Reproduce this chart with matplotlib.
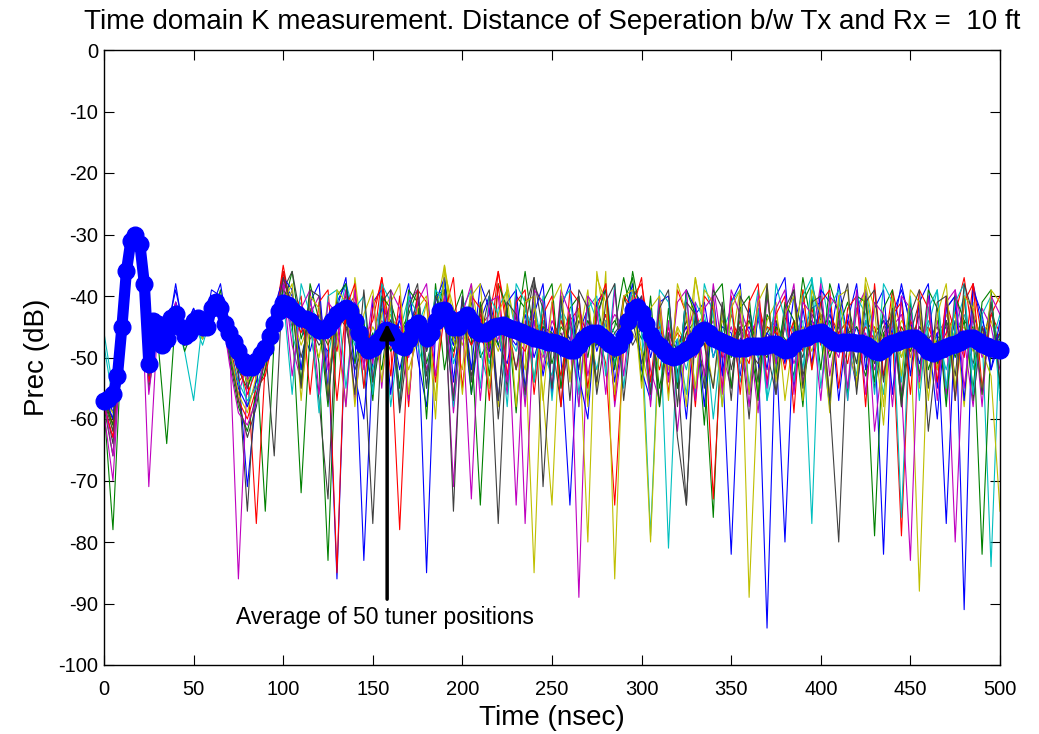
#!/usr/bin/env python3
"""Time domain K measurement: 50 tuner positions and their average."""

import matplotlib
matplotlib.use("Agg")
import matplotlib.pyplot as plt
import numpy as np

plt.rcParams["font.family"] = ["Liberation Sans", "DejaVu Sans"]
plt.rcParams["axes.unicode_minus"] = False

# average over tuner positions, one value every 2.5 ns from 0 to 500 ns
AVG_STEP = 2.5
AVG_DB = [
    -57, -56.8, -56, -53, -45, -36, -31, -30, -31.5, -38,
    -51, -44, -44.5, -48, -47, -43.5, -43, -45, -46.5, -46,
    -44, -43.5, -45, -45, -42, -41, -42, -44.5, -46, -47.5,
    -49, -50.5, -51.5, -51.5, -50.5, -49.5, -48.5, -46.5, -44.5, -42.5,
    -41.2, -41.5, -42.3, -43, -43.5, -43.8, -44, -45, -45.5, -45.5,
    -45, -44, -43, -42.5, -42, -42.5, -44, -46, -48, -48.8,
    -48.5, -47.5, -46.5, -45.5, -45.8, -46.8, -48, -48.3, -47, -45,
    -44.4, -45.5, -46.8, -46, -44, -42.5, -42.3, -43.5, -45, -45,
    -43.8, -43.1, -44, -45.5, -46, -46, -45.5, -45, -44.8, -44.7,
    -45, -45.3, -45.5, -45.8, -46.2, -46.5, -46.8, -47, -47.2, -47.4,
    -47.5, -47.6, -48, -48.5, -48.8, -48.8, -48, -47, -46.3, -46,
    -46, -46.5, -47.2, -47.8, -48.3, -48, -46.5, -44, -42.3, -41.8,
    -42.8, -44.5, -46.3, -47.5, -48.2, -49, -49.6, -49.9, -49.7, -49.2,
    -48.7, -48.3, -47.2, -46, -45.5, -46, -46.8, -47.2, -47.5, -47.8,
    -48.2, -48.5, -48.5, -48.4, -48.2, -48.1, -48.2, -48.2, -48, -47.8,
    -47.8, -48.3, -48.8, -48.6, -47.8, -47, -46.8, -46.6, -46.2, -46,
    -45.9, -46.3, -47, -47.5, -47.6, -47.5, -47.4, -47.5, -47.6, -47.7,
    -48, -48.5, -49, -49.1, -48.6, -48, -47.6, -47.4, -47.2, -47,
    -46.8, -46.8, -47.3, -48.2, -49, -49.3, -49, -48.6, -48.3, -48,
    -47.8, -47.5, -47, -46.8, -46.9, -47.3, -47.8, -48.2, -48.4, -48.6,
    -48.8,
]

# individual tuner positions, one value every 5 ns from 0 to 500 ns
TRACE_STEP = 5
TRACE_01 = [
    -56, -58, -46, -31, -31, -50, -43, -46, -39, -46,
    -42, -47, -39, -40, -47, -52, -71, -56, -50, -43,
    -38, -40, -45, -49, -43, -47, -41, -38, -46, -83,
    -50, -42, -44, -52, -45, -41, -49, -40, -39, -47,
    -42, -56, -44, -40, -48, -51, -43, -47, -41, -53,
    -45, -50, -74, -46, -42, -49, -44, -56, -45, -39,
    -41, -50, -44, -53, -47, -60, -43, -41, -50, -45,
    -46, -53, -42, -49, -94, -44, -51, -40, -46, -42,
    -41, -48, -38, -47, -55, -44, -46, -82, -43, -39,
    -44, -51, -46, -60, -42, -40, -91, -38, -45, -52,
    -47,
]
TRACE_02 = [
    -58, -78, -47, -32, -32, -55, -46, -49, -42, -48,
    -45, -44, -43, -41, -49, -47, -55, -50, -75, -47,
    -42, -36, -47, -42, -51, -83, -44, -40, -43, -50,
    -46, -52, -41, -46, -43, -39, -51, -45, -37, -48,
    -45, -41, -50, -47, -43, -55, -40, -42, -48, -44,
    -51, -45, -47, -43, -50, -41, -48, -45, -37, -44,
    -47, -43, -55, -46, -49, -44, -48, -52, -76, -42,
    -50, -45, -47, -56, -43, -46, -48, -53, -41, -38,
    -44, -50, -45, -41, -48, -53, -46, -44, -49, -45,
    -48, -43, -52, -47, -45, -50, -44, -46, -49, -41,
    -50,
]
TRACE_03 = [
    -57, -60, -44, -31, -31, -53, -44, -47, -42, -45,
    -43, -46, -41, -42, -48, -54, -52, -77, -51, -44,
    -36, -43, -46, -41, -47, -44, -49, -39, -45, -47,
    -44, -37, -48, -78, -46, -43, -45, -42, -44, -50,
    -41, -47, -43, -49, -36, -44, -52, -45, -43, -48,
    -46, -53, -44, -42, -47, -45, -51, -74, -48, -40,
    -38, -47, -52, -45, -51, -46, -42, -48, -45, -50,
    -43, -48, -51, -41, -47, -45, -52, -44, -49, -42,
    -48, -43, -46, -51, -42, -47, -45, -50, -39, -46,
    -49, -45, -47, -52, -41, -46, -50, -38, -47, -43,
    -46,
]
TRACE_04 = [
    -48, -57, -45, -31, -32, -49, -45, -48, -44, -49,
    -57, -44, -43, -42, -45, -50, -58, -49, -47, -46,
    -43, -44, -41, -46, -44, -50, -42, -44, -48, -46,
    -52, -45, -43, -47, -49, -45, -41, -47, -43, -46,
    -47, -43, -45, -51, -44, -46, -49, -42, -46, -44,
    -49, -43, -50, -47, -45, -52, -44, -46, -49, -43,
    -45, -79, -44, -49, -47, -52, -45, -43, -50, -46,
    -49, -44, -47, -50, -45, -49, -43, -46, -44, -77,
    -37, -45, -49, -46, -51, -44, -48, -43, -47, -50,
    -45, -49, -44, -47, -52, -46, -43, -48, -46, -84,
    -45,
]
TRACE_05 = [
    -59, -70, -46, -32, -31, -71, -44, -46, -41, -47,
    -44, -43, -42, -43, -50, -56, -51, -53, -48, -45,
    -40, -45, -42, -47, -45, -43, -47, -41, -44, -51,
    -47, -44, -46, -43, -50, -44, -48, -46, -41, -71,
    -43, -46, -44, -48, -47, -42, -74, -44, -47, -50,
    -44, -47, -43, -89, -44, -48, -46, -43, -45, -41,
    -44, -48, -46, -51, -48, -45, -50, -47, -44, -49,
    -45, -50, -46, -44, -49, -47, -45, -51, -46, -48,
    -44, -47, -50, -43, -49, -46, -52, -47, -45, -43,
    -50, -45, -48, -46, -44, -80, -46, -44, -50, -47,
    -48,
]
TRACE_06 = [
    -56, -62, -47, -31, -33, -52, -45, -48, -44, -46,
    -44, -47, -43, -41, -48, -51, -53, -50, -49, -46,
    -41, -43, -48, -44, -46, -45, -44, -43, -42, -49,
    -45, -48, -43, -46, -52, -47, -45, -43, -35, -44,
    -48, -43, -47, -45, -49, -44, -46, -48, -85, -45,
    -47, -44, -49, -46, -80, -36, -45, -48, -43, -46,
    -49, -80, -46, -50, -45, -48, -37, -45, -48, -44,
    -47, -51, -44, -48, -46, -43, -50, -47, -45, -49,
    -44, -46, -49, -47, -43, -39, -50, -46, -48, -44,
    -46, -88, -45, -48, -43, -47, -45, -49, -46, -44,
    -49,
]
TRACE_07 = [
    -57, -64, -46, -31, -32, -54, -43, -48, -43, -48,
    -45, -46, -44, -40, -46, -53, -75, -52, -50, -47,
    -39, -36, -44, -45, -48, -46, -43, -45, -47, -49,
    -77, -46, -44, -47, -45, -42, -49, -44, -43, -47,
    -45, -48, -43, -46, -77, -44, -47, -45, -37, -46,
    -48, -46, -50, -44, -47, -45, -49, -46, -44, -48,
    -45, -47, -50, -48, -52, -74, -45, -47, -46, -49,
    -47, -45, -49, -51, -46, -44, -48, -46, -50, -43,
    -45, -48, -46, -44, -49, -47, -51, -45, -43, -47,
    -46, -49, -47, -45, -50, -44, -46, -51, -45, -48,
    -47,
]
TRACE_08 = [
    -55, -59, -45, -30, -31, -50, -44, -47, -38, -47,
    -44, -45, -42, -38, -47, -49, -54, -50, -48, -44,
    -42, -44, -43, -45, -47, -49, -86, -43, -41, -46,
    -48, -45, -47, -44, -49, -43, -85, -45, -44, -48,
    -43, -45, -47, -49, -44, -46, -48, -43, -50, -45,
    -49, -44, -47, -50, -45, -47, -43, -50, -46, -44,
    -42, -48, -46, -52, -48, -45, -49, -44, -47, -50,
    -82, -47, -45, -49, -46, -48, -80, -45, -48, -44,
    -46, -43, -47, -49, -45, -50, -47, -44, -46, -38,
    -45, -47, -50, -46, -77, -44, -48, -43, -47, -49,
    -46,
]
TRACE_09 = [
    -58, -66, -46, -31, -32, -51, -47, -64, -43, -48,
    -46, -44, -42, -41, -48, -52, -55, -51, -50, -47,
    -42, -44, -72, -46, -45, -48, -44, -43, -46, -50,
    -47, -45, -49, -46, -44, -47, -46, -43, -45, -49,
    -44, -47, -74, -45, -48, -43, -46, -36, -47, -45,
    -46, -49, -45, -47, -44, -48, -46, -44, -47, -36,
    -44, -46, -49, -47, -51, -46, -44, -48, -45, -47,
    -49, -46, -44, -48, -50, -45, -47, -49, -37, -45,
    -47, -44, -49, -46, -45, -48, -79, -46, -44, -47,
    -49, -45, -47, -51, -44, -48, -46, -45, -82, -47,
    -48,
]
TRACE_10 = [
    -56, -61, -44, -31, -31, -52, -45, -46, -42, -46,
    -43, -45, -41, -42, -47, -51, -56, -52, -48, -45,
    -35, -43, -45, -43, -46, -47, -85, -42, -40, -47,
    -49, -37, -46, -45, -48, -43, -47, -45, -42, -46,
    -44, -48, -45, -43, -36, -46, -47, -49, -44, -48,
    -47, -44, -48, -46, -45, -47, -43, -49, -46, -42,
    -44, -47, -45, -49, -46, -48, -45, -44, -73, -46,
    -48, -44, -47, -49, -45, -46, -48, -44, -47, -45,
    -43, -49, -46, -44, -48, -45, -47, -50, -46, -79,
    -44, -47, -45, -49, -46, -43, -37, -47, -45, -48,
    -46,
]
TRACE_11 = [
    -57, -58, -46, -31, -32, -53, -46, -47, -44, -45,
    -44, -48, -43, -42, -46, -50, -52, -53, -49, -45,
    -39, -46, -52, -41, -45, -56, -44, -38, -43, -55,
    -47, -41, -58, -46, -40, -48, -53, -42, -38, -51,
    -46, -40, -49, -55, -42, -39, -46, -57, -41, -49,
    -53, -42, -45, -58, -40, -44, -38, -51, -45, -39,
    -46, -55, -42, -81, -47, -56, -41, -44, -60, -46,
    -42, -54, -48, -39, -57, -50, -43, -40, -52, -37,
    -47, -58, -41, -46, -53, -39, -47, -56, -42, -76,
    -41, -53, -45, -39, -57, -45, -40, -52, -44, -48,
    -43,
]
TRACE_12 = [
    -58, -63, -47, -32, -32, -54, -44, -49, -42, -47,
    -45, -46, -43, -42, -47, -86, -53, -51, -49, -46,
    -37, -48, -54, -43, -40, -52, -47, -39, -57, -45,
    -51, -40, -46, -55, -41, -39, -52, -47, -40, -59,
    -44, -73, -41, -50, -45, -56, -39, -77, -44, -52,
    -41, -55, -48, -40, -53, -44, -38, -58, -46, -43,
    -40, -52, -57, -44, -62, -47, -41, -53, -38, -49,
    -55, -42, -46, -59, -40, -51, -45, -38, -54, -47,
    -38, -53, -44, -57, -42, -39, -62, -49, -43, -55,
    -83, -42, -50, -44, -56, -39, -47, -58, -42, -45,
    -52,
]
TRACE_13 = [
    -57, -59, -45, -31, -32, -50, -45, -47, -43, -46,
    -44, -46, -42, -43, -48, -50, -54, -51, -49, -46,
    -43, -39, -55, -45, -50, -41, -46, -58, -37, -49,
    -54, -43, -40, -57, -44, -48, -41, -60, -35, -47,
    -52, -38, -47, -44, -58, -38, -46, -52, -42, -56,
    -74, -41, -53, -47, -39, -55, -36, -86, -44, -40,
    -49, -56, -43, -52, -45, -58, -37, -46, -55, -42,
    -48, -39, -89, -53, -44, -41, -57, -46, -39, -52,
    -44, -59, -40, -48, -54, -38, -46, -61, -41, -50,
    -45, -55, -40, -52, -47, -43, -58, -41, -49, -53,
    -75,
]
TRACE_14 = [
    -57, -60, -46, -31, -31, -52, -45, -48, -43, -47,
    -44, -45, -43, -42, -47, -51, -53, -52, -48, -66,
    -36, -42, -50, -44, -57, -73, -41, -45, -52, -48,
    -55, -46, -41, -59, -47, -40, -53, -44, -39, -75,
    -41, -53, -47, -40, -60, -45, -52, -42, -37, -71,
    -47, -58, -43, -52, -41, -56, -46, -50, -40, -44,
    -51, -44, -58, -46, -63, -74, -43, -48, -55, -41,
    -52, -45, -60, -42, -49, -56, -44, -39, -53, -46,
    -43, -57, -80, -45, -51, -40, -55, -47, -42, -58,
    -46, -41, -62, -48, -44, -53, -40, -57, -45, -50,
    -46,
]
TRACE_15 = [
    -56, -60, -45, -31, -31, -52, -43, -49, -41, -45,
    -42, -46, -40, -41, -48, -55, -58, -54, -47, -42,
    -37, -39, -52, -41, -38, -55, -42, -37, -53, -60,
    -41, -39, -56, -43, -38, -50, -58, -41, -37, -54,
    -40, -52, -38, -42, -57, -41, -39, -55, -43, -38,
    -56, -42, -38, -53, -60, -41, -39, -54, -44, -38,
    -52, -57, -41, -40, -55, -39, -42, -58, -40, -53,
    -41, -38, -56, -43, -52, -40, -37, -55, -42, -51,
    -39, -41, -57, -44, -38, -52, -42, -39, -56, -40,
    -53, -41, -38, -55, -42, -40, -57, -39, -43, -52,
    -44,
]
TRACE_16 = [
    -57, -61, -46, -31, -32, -50, -44, -47, -42, -49,
    -45, -43, -44, -39, -50, -58, -62, -56, -52, -45,
    -39, -41, -54, -38, -44, -58, -40, -38, -51, -44,
    -57, -40, -42, -55, -39, -41, -60, -38, -52, -43,
    -39, -56, -41, -53, -38, -42, -59, -40, -54, -41,
    -38, -55, -42, -40, -57, -43, -39, -52, -41, -37,
    -54, -40, -58, -42, -55, -39, -43, -61, -40, -38,
    -55, -42, -40, -57, -39, -53, -41, -44, -58, -40,
    -52, -38, -43, -56, -40, -41, -54, -42, -39, -57,
    -41, -53, -39, -42, -58, -40, -44, -55, -41, -39,
    -55,
]
TRACE_17 = [
    -58, -63, -44, -31, -31, -54, -45, -46, -42, -47,
    -43, -45, -42, -40, -47, -57, -60, -55, -53, -46,
    -36, -44, -40, -56, -41, -39, -57, -42, -38, -55,
    -42, -38, -53, -40, -58, -39, -41, -54, -43, -37,
    -55, -40, -42, -57, -38, -53, -41, -39, -56, -43,
    -40, -58, -39, -41, -55, -42, -38, -57, -40, -42,
    -37, -54, -41, -56, -39, -43, -58, -40, -42, -55,
    -40, -56, -41, -38, -54, -43, -40, -59, -39, -52,
    -41, -39, -55, -42, -40, -58, -38, -53, -43, -41,
    -56, -39, -42, -54, -40, -57, -41, -38, -55, -43,
    -40,
]
TRACE_18 = [
    -46, -55, -46, -32, -32, -51, -43, -48, -43, -46,
    -44, -47, -43, -42, -49, -54, -57, -55, -50, -44,
    -40, -56, -38, -43, -59, -40, -39, -55, -42, -40,
    -56, -38, -41, -57, -40, -43, -55, -39, -41, -58,
    -42, -39, -55, -40, -43, -58, -38, -41, -54, -40,
    -57, -41, -39, -56, -42, -40, -53, -38, -55, -41,
    -43, -57, -39, -41, -54, -40, -56, -38, -43, -58,
    -41, -39, -55, -42, -57, -38, -44, -54, -40, -37,
    -55, -42, -39, -57, -40, -43, -56, -38, -41, -54,
    -40, -57, -42, -39, -55, -41, -38, -56, -43, -40,
    -57,
]
TRACE_19 = [
    -57, -66, -47, -32, -31, -56, -44, -49, -41, -48,
    -45, -44, -42, -41, -51, -59, -61, -57, -49, -43,
    -38, -53, -42, -39, -56, -41, -43, -58, -39, -52,
    -40, -55, -39, -42, -57, -41, -38, -53, -40, -56,
    -43, -38, -57, -41, -40, -54, -42, -58, -39, -41,
    -55, -39, -43, -58, -40, -42, -56, -39, -53, -40,
    -42, -58, -40, -54, -41, -39, -57, -42, -40, -56,
    -39, -43, -58, -40, -55, -42, -39, -56, -41, -43,
    -57, -40, -42, -55, -39, -56, -41, -43, -58, -40,
    -42, -54, -40, -57, -41, -39, -55, -42, -58, -40,
    -43,
]
TRACE_20 = [
    -57, -58, -45, -31, -32, -50, -46, -47, -44, -45,
    -43, -47, -41, -42, -48, -56, -59, -53, -51, -44,
    -41, -38, -57, -40, -42, -56, -39, -41, -58, -43,
    -39, -54, -41, -38, -56, -42, -40, -57, -36, -42,
    -56, -40, -38, -55, -43, -39, -58, -41, -40, -57,
    -41, -38, -54, -42, -58, -37, -41, -56, -40, -39,
    -55, -42, -40, -57, -38, -43, -55, -39, -41, -58,
    -42, -39, -56, -41, -38, -54, -43, -40, -57, -39,
    -43, -56, -40, -39, -55, -37, -42, -58, -40, -53,
    -39, -41, -57, -43, -38, -55, -40, -42, -56, -39,
    -41,
]
TRACE_21 = [
    -57, -62, -46, -31, -32, -53, -44, -48, -42, -48,
    -44, -46, -43, -41, -49, -57, -63, -58, -50, -45,
    -37, -42, -55, -39, -40, -57, -41, -43, -56, -39,
    -54, -41, -39, -58, -42, -38, -55, -40, -43, -57,
    -40, -54, -42, -39, -57, -41, -43, -56, -38, -42,
    -55, -40, -57, -39, -42, -54, -41, -38, -57, -43,
    -40, -56, -42, -39, -58, -41, -43, -55, -39, -42,
    -57, -40, -43, -54, -38, -56, -42, -39, -55, -41,
    -40, -57, -43, -38, -56, -41, -39, -54, -42, -58,
    -43, -39, -55, -41, -40, -57, -38, -43, -56, -41,
    -54,
]
TRACES = [
    TRACE_01, TRACE_02, TRACE_03, TRACE_04, TRACE_05, TRACE_06, TRACE_07,
    TRACE_08, TRACE_09, TRACE_10, TRACE_11, TRACE_12, TRACE_13, TRACE_14,
    TRACE_15, TRACE_16, TRACE_17, TRACE_18, TRACE_19, TRACE_20, TRACE_21,
]

# old MATLAB line colour order: b, g, r, c, m, y, k
COLOR_ORDER = [
    (0.0, 0.0, 1.0), (0.0, 0.5, 0.0), (1.0, 0.0, 0.0), (0.0, 0.75, 0.75),
    (0.75, 0.0, 0.75), (0.75, 0.75, 0.0), (0.25, 0.25, 0.25),
]

TITLE = "Time domain K measurement. Distance of Seperation b/w Tx and Rx =  10 ft"
NOTE = "Average of 50 tuner positions"
NOTE_XY = (157, -92.2)
ARROW_TIP = (158, -44.5)
ARROW_TAIL = (158, -89.3)


def main() -> None:
    fig = plt.figure(figsize=(10.39, 7.34), dpi=100)
    ax = fig.add_axes([104 / 1039, 1 - 665 / 734, 896 / 1039, 615 / 734])

    for k, trace in enumerate(TRACES):
        t = np.arange(len(trace)) * TRACE_STEP
        ax.plot(t, trace, color=COLOR_ORDER[k % len(COLOR_ORDER)], linewidth=0.8)

    t_avg = np.arange(len(AVG_DB)) * AVG_STEP
    ax.plot(t_avg, AVG_DB, "o-", color="blue", markerfacecolor="blue",
            markeredgecolor="blue", markersize=12, linewidth=8, clip_on=False,
            zorder=5)

    ax.annotate("", xy=ARROW_TIP, xytext=ARROW_TAIL,
                arrowprops=dict(arrowstyle="-|>", color="black", lw=2.5,
                                mutation_scale=22, shrinkA=0, shrinkB=0),
                zorder=6)
    ax.text(NOTE_XY[0], NOTE_XY[1], NOTE, ha="center", va="center", fontsize=16.5)

    ax.set_xlim(0, 500)
    ax.set_ylim(-100, 0)
    ax.set_xticks(np.arange(0, 501, 50))
    ax.set_yticks(np.arange(-100, 1, 10))
    ax.tick_params(direction="in", top=True, right=True, length=7, width=0.8,
                   labelsize=14.5)
    ax.tick_params(axis="x", pad=11)
    ax.tick_params(axis="y", pad=4)
    for side in ax.spines.values():
        side.set_linewidth(1.0)

    ax.set_xlabel("Time (nsec)", fontsize=20, labelpad=4)
    ax.set_ylabel("Prec (dB)", fontsize=20, labelpad=6)
    ax.set_title(TITLE, fontsize=20, pad=15)

    fig.savefig("out.png", dpi=100)
    plt.close(fig)


if __name__ == "__main__":
    main()
